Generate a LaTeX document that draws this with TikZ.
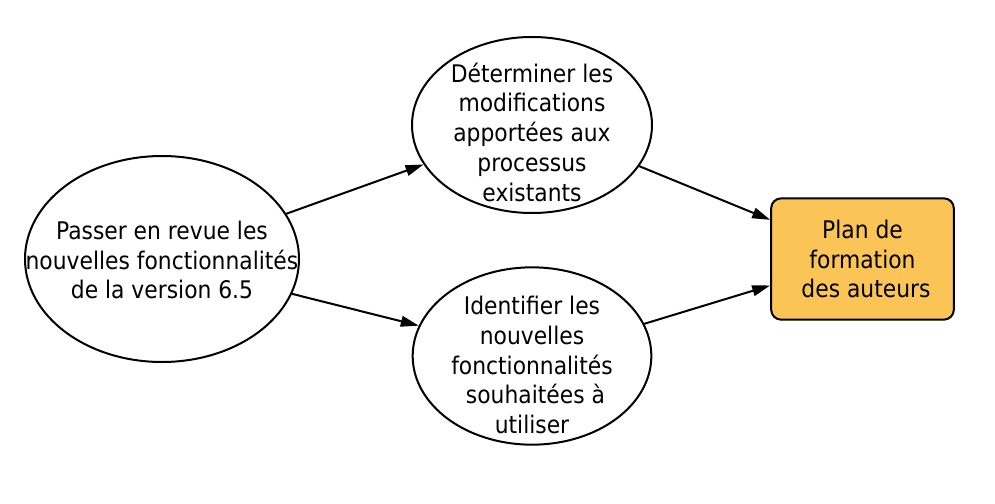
\documentclass[tikz,border=0pt]{standalone}
\usepackage{fontspec}
\setmainfont{DejaVu Sans Condensed}
\usetikzlibrary{shapes.geometric,arrows.meta}
\begin{document}
\begin{tikzpicture}[x=0.75pt,y=-0.75pt,
  ell/.style={draw=black,line width=1.5pt,ellipse,inner sep=0pt},
  txt/.style={align=center,font=\fontsize{18.2}{22.3}\selectfont,inner sep=0pt},
  boxnode/.style={draw=black,line width=1.5pt,rounded corners=7.5pt,fill=boxfill,
    minimum width=137pt,minimum height=91pt,inner sep=0pt},
  conn/.style={line width=1.5pt,-{Triangle[length=13.5pt,width=8pt]}}]
\definecolor{boxfill}{RGB}{251,196,87}
\useasboundingbox (0,0) rectangle (995,503);
\node[ell,minimum width=205.5pt,minimum height=154.5pt] (a) at (162,259) {};
\node[txt] (ta) at (162,260) {Passer en revue les\\nouvelles fonctionnalités\\de la version 6.5};
\node[ell,minimum width=180pt,minimum height=132pt] (b) at (532,125) {};
\node[txt] (tb) at (532,132) {Déterminer les\\modifications\\apportées aux\\processus\\existants};
\node[ell,minimum width=179pt,minimum height=133pt] (c) at (532,356) {};
\node[txt] (tc) at (532,365) {Identifier les\\nouvelles\\fonctionnalités\\\ souhaitées à\\utiliser};
\node[boxnode] (d) at (862.5,259) {};
\node[txt] (td) at (862.5,259) {Plan de\\formation\\\ des auteurs};
\draw[conn] (a.20) -- (b.200);
\draw[conn] (a.-15) -- (c.165);
\draw[conn] (b.-21.6) -- (d.157.5);
\draw[conn] (c.16.6) -- (d.196.4);
\end{tikzpicture}
\end{document}
